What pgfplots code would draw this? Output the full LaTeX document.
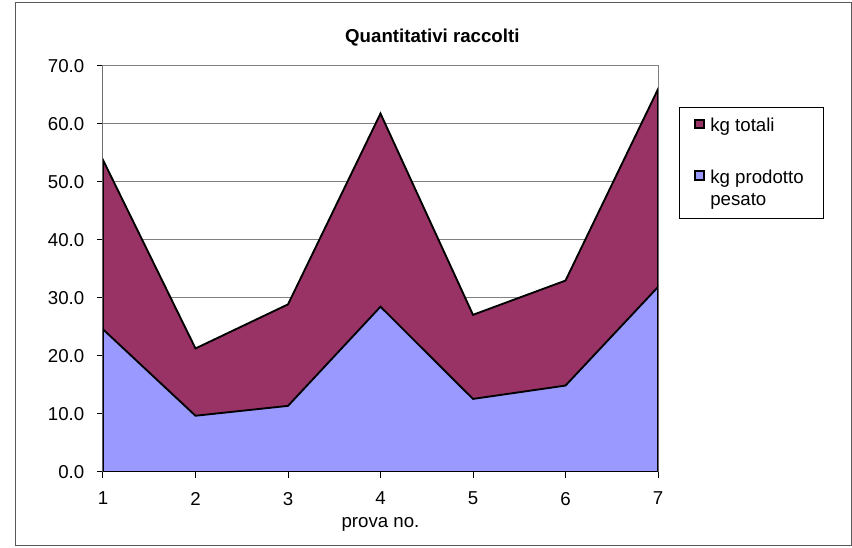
\documentclass[border=0pt]{standalone}
\usepackage{pgfplots}
\pgfplotsset{compat=1.18}
\usepackage{fontspec}
\setmainfont{Liberation Sans}
\definecolor{totcol}{HTML}{993366}
\definecolor{pescol}{HTML}{9999FF}
\definecolor{gridcol}{HTML}{808080}
\begin{document}
\begin{tikzpicture}
% page extent 852x548 px (1px = 0.75pt), plot box lower-left at (0,0)
\path (-77.25pt,-57pt) rectangle (561.75pt,354pt);
\draw[gray!70!black, line width=0.75pt] (-65.25pt,-55.5pt) rectangle (561pt,351.75pt);
\begin{axis}[
  at={(0,0)}, anchor=south west,
  scale only axis,
  width=416.25pt, height=304.5pt,
  xmin=1, xmax=7, ymin=0, ymax=70,
  xtick={1,...,7}, ytick={0,10,...,70},
  xtick pos=bottom, ytick pos=left,
  tick align=outside,
  major tick length=4.5pt,
  tick style={black, line width=0.75pt},
  ymajorgrids,
  grid style={gridcol, line width=0.75pt},
  axis line style={gridcol, line width=0.75pt},
  /pgf/number format/assume math mode=true,
  font=\fontsize{14}{17}\selectfont,
  yticklabel style={xshift=-6pt, /pgf/number format/.cd, fixed, fixed zerofill, precision=1},
  xticklabel style={yshift=-7pt},
  xlabel={prova no.},
  xlabel style={at={(axis description cs:0.5,0)}, anchor=base, yshift=-42pt},
  legend style={
    at={(1,1)}, anchor=north west, xshift=15.75pt, yshift=-30.75pt,
    draw=black, line width=0.75pt, fill=white,
    font=\fontsize{14}{17}\selectfont,
    row sep=23pt, inner xsep=11pt, inner ysep=6pt,
    cells={anchor=base west},
  },
]
\addplot[fill=totcol, draw=black, line width=1.4pt,
  legend image code/.code={
    \draw[fill=totcol, draw=black, line width=1.3pt] (0pt,2.5pt) rectangle (6.5pt,9pt);
    \path (8.75pt,0pt);
  }] coordinates {
  (1,53.8) (2,21.3) (3,28.9) (4,61.8) (5,27.1) (6,33.0) (7,66.0)
} \closedcycle;
\addlegendentry{kg totali}
\addplot[fill=pescol, draw=black, line width=1.4pt,
  legend image code/.code={
    \draw[fill=pescol, draw=black, line width=1.3pt] (0pt,19.5pt) rectangle (6.5pt,26pt);
    \path (8.75pt,0pt);
  }] coordinates {
  (1,24.6) (2,9.7) (3,11.4) (4,28.5) (5,12.6) (6,14.9) (7,31.9)
} \closedcycle;
\addlegendentry{\parbox[b]{72pt}{\raggedright kg prodotto\\pesato}}
\draw[black, line width=0.75pt] (rel axis cs:0,1) -- (rel axis cs:0,0) -- (rel axis cs:1,0);
\end{axis}
\node[font=\bfseries\fontsize{14}{17}\selectfont] at (247pt,326pt) {Quantitativi raccolti};
\end{tikzpicture}
\end{document}
